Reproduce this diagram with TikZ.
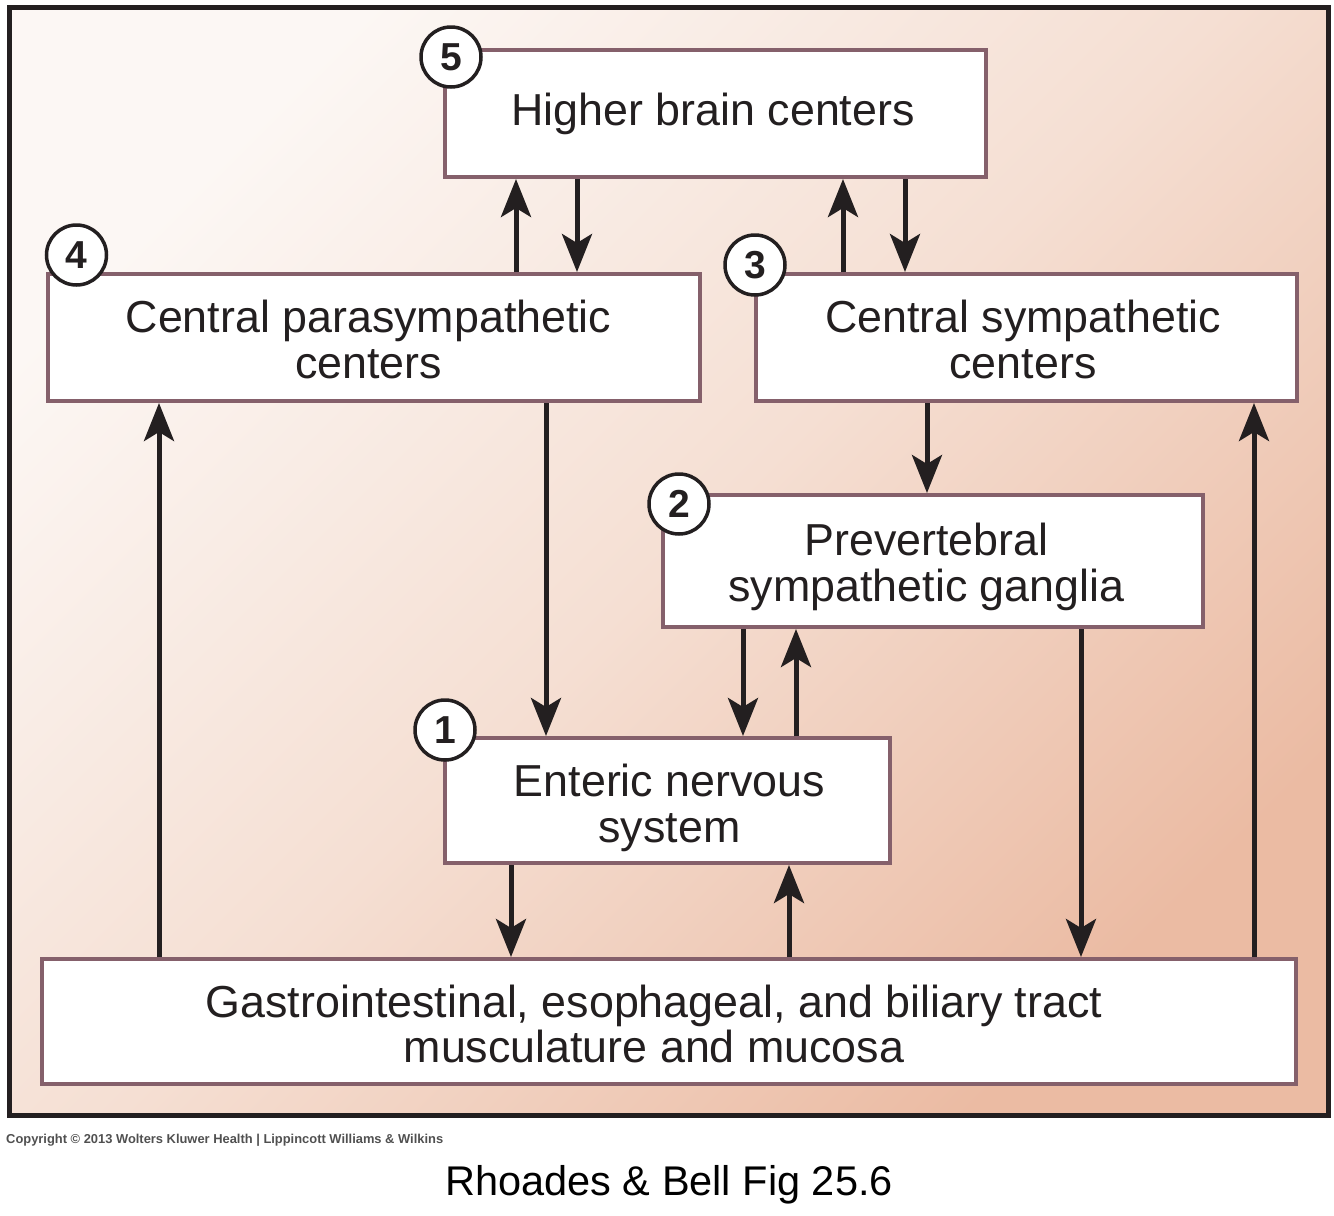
\documentclass[tikz,border=0pt]{standalone}
\usepackage{fontspec}
\setmainfont{Liberation Sans}
\usetikzlibrary{arrows.meta}
\definecolor{boxline}{HTML}{85606B}
\definecolor{ink}{HTML}{231F20}
\definecolor{bgA}{HTML}{FCF7F4}
\definecolor{bgB}{HTML}{F5DFD3}
\definecolor{bgC}{HTML}{EBBBA3}
\definecolor{copyc}{HTML}{505050}
\begin{document}
\begin{tikzpicture}[x=1pt,y=-1pt,
  box/.style={draw=boxline, line width=4pt, fill=white, inner sep=0pt},
  lbl/.style={font=\fontsize{44.8}{46}\selectfont, text=ink, align=center, inner sep=0pt},
  num/.style={circle, draw=ink, line width=3.5pt, fill=white, minimum size=60pt, inner sep=0pt, font=\fontsize{39}{39}\bfseries\selectfont, text=ink},
  arr/.style={draw=ink, line width=5pt, -{Stealth[length=38pt,width=30pt,inset=9pt]}}]

\useasboundingbox (0,0) rectangle (1334,1216);
\shade[top color=bgA, bottom color=bgC, middle color=bgB, shading angle=45] (9,7) rectangle (1328,1115);
\draw[ink, line width=5pt] (9,7) rectangle (1328,1115);

% boxes
\node[box, minimum width=541pt, minimum height=127pt] (b5) at (715.5,113.5) {};
\node[box, minimum width=652pt, minimum height=127pt] (b4) at (374,337.5) {};
\node[box, minimum width=541pt, minimum height=127pt] (b3) at (1026.5,337.5) {};
\node[box, minimum width=540pt, minimum height=132pt] (b2) at (933,561) {};
\node[box, minimum width=445pt, minimum height=125pt] (b1) at (667.5,800.5) {};
\node[box, minimum width=1254pt, minimum height=125pt] (b6) at (669,1021.5) {};

% labels
\node[lbl, anchor=base] (t5) at (713,125) {Higher brain centers};
\node[lbl, anchor=north] (t4) at (368.5,299.5) {Central parasympathetic\\centers};
\node[lbl, anchor=north] (t3) at (1023,299.5) {Central sympathetic\\centers};
\node[lbl, anchor=north] (t2) at (926.5,523) {Prevertebral\\sympathetic ganglia};
\node[lbl, anchor=north] (t1) at (669.5,764) {Enteric nervous\\system};
\node[lbl, anchor=north, font=\fontsize{44.8}{45}\selectfont] (t6) at (654,984.4) {Gastrointestinal, esophageal, and biliary tract\\musculature and mucosa};

% numbers
\node[num] (c5) at (451,57) {5};
\node[num] (c4) at (76.5,255) {4};
\node[num] (c3) at (755,265) {3};
\node[num] (c2) at (679,504) {2};
\node[num] (c1) at (445,730) {1};

% connectors
\draw[arr] (b4.north -| 516,0) -- (b5.south -| 516,0);
\draw[arr] (b5.south -| 577,0) -- (b4.north -| 577,0);
\draw[arr] (b3.north -| 843,0) -- (b5.south -| 843,0);
\draw[arr] (b5.south -| 905,0) -- (b3.north -| 905,0);
\draw[arr] (b4.south -| 546,0) -- (b1.north -| 546,0);
\draw[arr] (b3.south -| 927,0) -- (b2.north -| 927,0);
\draw[arr] (b2.south -| 743,0) -- (b1.north -| 743,0);
\draw[arr] (b1.north -| 796,0) -- (b2.south -| 796,0);
\draw[arr] (b1.south -| 511,0) -- (b6.north -| 511,0);
\draw[arr] (b6.north -| 789,0) -- (b1.south -| 789,0);
\draw[arr] (b2.south -| 1081,0) -- (b6.north -| 1081,0);
\draw[arr] (b6.north -| 159,0) -- (b4.south -| 159,0);
\draw[arr] (b6.north -| 1254,0) -- (b3.south -| 1254,0);

% footer
\node[anchor=base west, inner sep=0pt, font=\fontsize{12.9}{13}\bfseries\selectfont, text=copyc] (copy) at (6,1143) {Copyright © 2013 Wolters Kluwer Health | Lippincott Williams \& Wilkins};
\node[anchor=base, inner sep=0pt, font=\fontsize{41.5}{42}\selectfont, text=black] (cap) at (669,1195) {Rhoades \& Bell Fig 25.6};
\end{tikzpicture}
\end{document}
